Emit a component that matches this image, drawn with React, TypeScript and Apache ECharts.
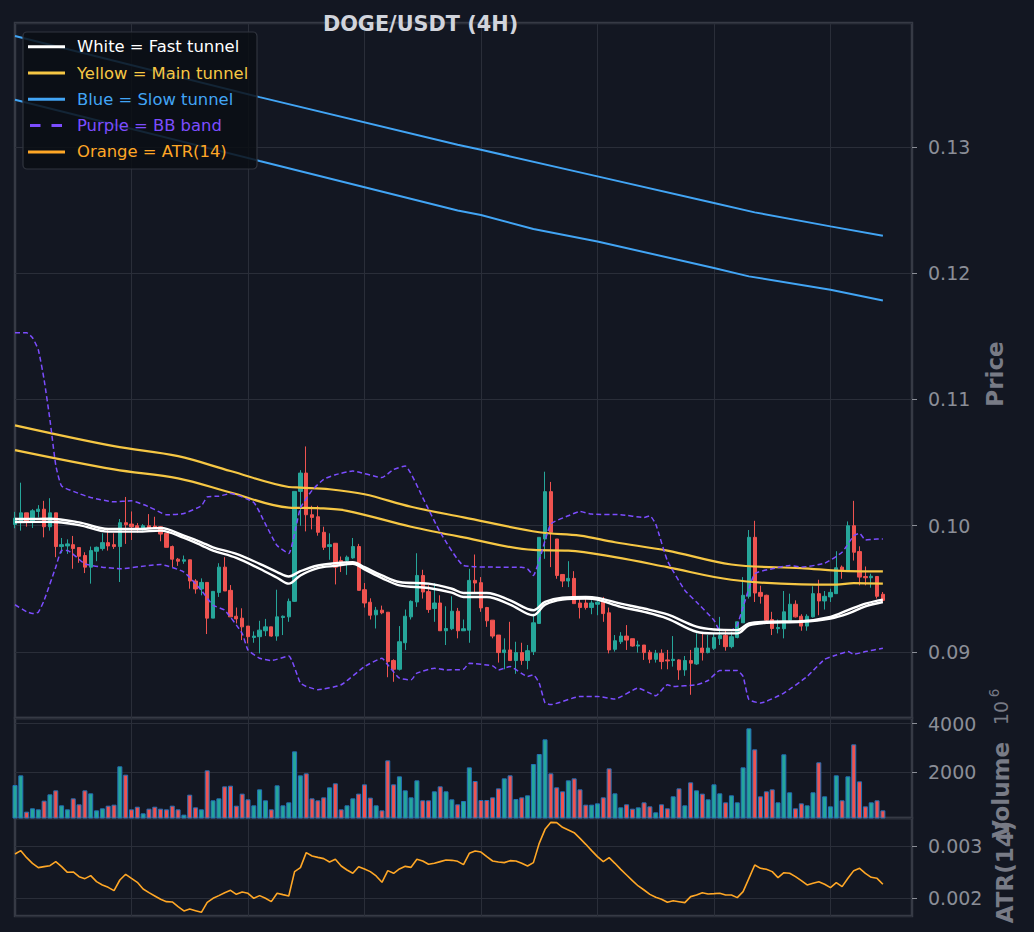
import React, { useEffect, useRef } from "react";
import * as echarts from "echarts";

// ---------- data ----------
const SLOT_COUNT = 155; // x range shown (candles 0..149 + empty room on the right)
const CATEGORIES = Array.from({ length: SLOT_COUNT }, (_, i) => String(i));

const OPEN = [
  0.10010, 0.10039, 0.10102, 0.10039, 0.10113, 0.10131, 0.09992, 0.10102, 0.09835, 0.09840,
  0.09850, 0.09827, 0.09764, 0.09672, 0.09798, 0.09819, 0.09866, 0.09850, 0.09835, 0.10024,
  0.10013, 0.10000, 0.09976, 0.10000, 0.09997, 0.09992, 0.09940, 0.09835, 0.09735, 0.09719,
  0.09730, 0.09562, 0.09499, 0.09551, 0.09268, 0.09472, 0.09672, 0.09488, 0.09283, 0.09268,
  0.09205, 0.09115, 0.09121, 0.09168, 0.09199, 0.09126, 0.09273, 0.09278, 0.09401, 0.10272,
  0.10417, 0.10087, 0.10071, 0.09948, 0.09835, 0.09861, 0.09724, 0.09724, 0.09745, 0.09835,
  0.09493, 0.09394, 0.09294, 0.09331, 0.09315, 0.08932, 0.08863, 0.09073, 0.09278, 0.09396,
  0.09606, 0.09478, 0.09344, 0.09388, 0.09168, 0.09184, 0.09323, 0.09168, 0.09173, 0.09567,
  0.09549, 0.09352, 0.09252, 0.09134, 0.08995, 0.09016, 0.08932, 0.08995, 0.08932, 0.09003,
  0.09226, 0.09895, 0.10270, 0.09895, 0.09614, 0.09562, 0.09583, 0.09388, 0.09388, 0.09352,
  0.09378, 0.09394, 0.09310, 0.09021, 0.09081, 0.09126, 0.09105, 0.09047, 0.09055, 0.08998,
  0.08942, 0.08989, 0.08937, 0.08932, 0.08937, 0.08858, 0.08932, 0.08905, 0.09031, 0.08995,
  0.09029, 0.09105, 0.09131, 0.09042, 0.09115, 0.09231, 0.09441, 0.09908, 0.09472, 0.09449,
  0.09257, 0.09184, 0.09184, 0.09252, 0.09378, 0.09283, 0.09205, 0.09278, 0.09462, 0.09404,
  0.09436, 0.09462, 0.09672, 0.09646, 0.10000, 0.09795, 0.09598, 0.09588, 0.09598, 0.09457,
];
const CLOSE = [
  0.10060, 0.10102, 0.10039, 0.10118, 0.10131, 0.09992, 0.10102, 0.09835, 0.09850, 0.09856,
  0.09819, 0.09758, 0.09672, 0.09803, 0.09829, 0.09866, 0.09840, 0.09835, 0.10024, 0.10008,
  0.09992, 0.09976, 0.10000, 0.09982, 0.09982, 0.09934, 0.09829, 0.09735, 0.09719, 0.09730,
  0.09562, 0.09499, 0.09551, 0.09268, 0.09480, 0.09672, 0.09483, 0.09278, 0.09262, 0.09199,
  0.09121, 0.09126, 0.09173, 0.09199, 0.09126, 0.09278, 0.09283, 0.09401, 0.10272, 0.10417,
  0.10087, 0.10066, 0.09948, 0.09829, 0.09850, 0.09672, 0.09714, 0.09751, 0.09835, 0.09488,
  0.09388, 0.09291, 0.09331, 0.09310, 0.08924, 0.08863, 0.09081, 0.09283, 0.09401, 0.09606,
  0.09475, 0.09336, 0.09388, 0.09168, 0.09186, 0.09323, 0.09168, 0.09184, 0.09567, 0.09546,
  0.09349, 0.09247, 0.09126, 0.08995, 0.09016, 0.08932, 0.08995, 0.08932, 0.09010, 0.09231,
  0.09908, 0.10270, 0.09948, 0.09606, 0.09562, 0.09583, 0.09383, 0.09352, 0.09352, 0.09388,
  0.09394, 0.09304, 0.09016, 0.09089, 0.09126, 0.09094, 0.09047, 0.09055, 0.08995, 0.08942,
  0.08989, 0.08924, 0.08929, 0.08942, 0.08858, 0.08932, 0.08911, 0.09031, 0.08995, 0.09031,
  0.09115, 0.09131, 0.09042, 0.09121, 0.09239, 0.09449, 0.09908, 0.09467, 0.09441, 0.09252,
  0.09186, 0.09194, 0.09318, 0.09378, 0.09278, 0.09205, 0.09283, 0.09462, 0.09404, 0.09441,
  0.09472, 0.09667, 0.09651, 0.10000, 0.09790, 0.09593, 0.09588, 0.09600, 0.09441, 0.09409,
];
const LOW = [
  0.09980, 0.09961, 0.09992, 0.09982, 0.10066, 0.09908, 0.09961, 0.09751, 0.09782, 0.09777,
  0.09659, 0.09706, 0.09625, 0.09541, 0.09719, 0.09803, 0.09803, 0.09816, 0.09554, 0.09856,
  0.09887, 0.09945, 0.09961, 0.09976, 0.09976, 0.09877, 0.09829, 0.09672, 0.09682, 0.09698,
  0.09501, 0.09462, 0.09449, 0.09142, 0.09268, 0.09436, 0.09483, 0.09278, 0.09226, 0.09094,
  0.09068, 0.09073, 0.08989, 0.09126, 0.09120, 0.09089, 0.09134, 0.09239, 0.09396, 0.10000,
  0.09955, 0.09971, 0.09921, 0.09808, 0.09730, 0.09535, 0.09633, 0.09611, 0.09738, 0.09488,
  0.09352, 0.09257, 0.09186, 0.09299, 0.08800, 0.08764, 0.08853, 0.09016, 0.09257, 0.09357,
  0.09423, 0.09310, 0.09239, 0.09168, 0.09055, 0.09173, 0.09108, 0.09168, 0.09073, 0.09462,
  0.09318, 0.09199, 0.09108, 0.08916, 0.08863, 0.08932, 0.08827, 0.08898, 0.08863, 0.08976,
  0.09226, 0.09738, 0.09672, 0.09580, 0.09514, 0.09514, 0.09383, 0.09265, 0.09336, 0.09299,
  0.09291, 0.09239, 0.08989, 0.09003, 0.09063, 0.09016, 0.09042, 0.08995, 0.08937, 0.08911,
  0.08916, 0.08863, 0.08863, 0.08884, 0.08779, 0.08811, 0.08661, 0.08898, 0.08932, 0.08989,
  0.09016, 0.09055, 0.09010, 0.09029, 0.09108, 0.09231, 0.09423, 0.09396, 0.09383, 0.09239,
  0.09134, 0.09147, 0.09108, 0.09239, 0.09273, 0.09168, 0.09168, 0.09273, 0.09291, 0.09336,
  0.09396, 0.09462, 0.09580, 0.09646, 0.09724, 0.09528, 0.09528, 0.09509, 0.09423, 0.09396,
];
const HIGH = [
  0.10110, 0.10341, 0.10102, 0.10131, 0.10163, 0.10197, 0.10218, 0.10102, 0.09903, 0.09892,
  0.09919, 0.09827, 0.09790, 0.09835, 0.09835, 0.09940, 0.09974, 0.09940, 0.10053, 0.10228,
  0.10113, 0.10021, 0.10013, 0.10092, 0.10071, 0.09997, 0.09940, 0.09843, 0.09745, 0.09764,
  0.09730, 0.09577, 0.09583, 0.09551, 0.09480, 0.09703, 0.09751, 0.09530, 0.09352, 0.09346,
  0.09205, 0.09163, 0.09247, 0.09262, 0.09199, 0.09493, 0.09289, 0.09423, 0.10272, 0.10440,
  0.10628, 0.10158, 0.10158, 0.09992, 0.09940, 0.09861, 0.09756, 0.09764, 0.09903, 0.09856,
  0.09546, 0.09425, 0.09357, 0.09367, 0.09315, 0.08942, 0.09205, 0.09336, 0.09409, 0.09782,
  0.09651, 0.09528, 0.09546, 0.09449, 0.09362, 0.09441, 0.09349, 0.09257, 0.09659, 0.09772,
  0.09593, 0.09357, 0.09252, 0.09134, 0.09108, 0.09239, 0.09081, 0.09073, 0.09055, 0.09304,
  0.09908, 0.10428, 0.10347, 0.09895, 0.09614, 0.09719, 0.09640, 0.09428, 0.09420, 0.09409,
  0.09436, 0.09436, 0.09352, 0.09134, 0.09157, 0.09213, 0.09105, 0.09089, 0.09055, 0.09016,
  0.09016, 0.09021, 0.09016, 0.09126, 0.08942, 0.08968, 0.09016, 0.09147, 0.09152, 0.09134,
  0.09147, 0.09278, 0.09173, 0.09160, 0.09239, 0.09593, 0.09966, 0.10039, 0.09525, 0.09454,
  0.09318, 0.09257, 0.09483, 0.09462, 0.09409, 0.09299, 0.09299, 0.09520, 0.09572, 0.09483,
  0.09501, 0.09798, 0.09685, 0.10034, 0.10197, 0.09837, 0.09677, 0.09620, 0.09598, 0.09475,
];
// volume in units of 10^6
const VOLUME = [
  1464, 1862, 364, 502, 460, 818, 1079, 1244, 625, 460,
  914, 667, 1244, 1120, 419, 502, 612, 653, 2234, 1890,
  460, 570, 296, 488, 570, 488, 460, 612, 460, 241,
  1065, 543, 460, 2069, 832, 914, 1409, 1436, 612, 1107,
  873, 625, 1285, 832, 460, 1450, 625, 749, 2852, 1862,
  1945, 914, 832, 955, 1368, 1533, 460, 625, 914, 1107,
  1491, 942, 625, 419, 2481, 1491, 1821, 1244, 955, 1656,
  832, 832, 1203, 1409, 1203, 873, 667, 804, 2192, 1629,
  845, 845, 955, 1326, 1739, 1863, 887, 955, 1038, 2330,
  2742, 3347, 1945, 1368, 1203, 1656, 1739, 1285, 653, 653,
  708, 955, 2151, 1120, 543, 667, 488, 543, 749, 584,
  337, 667, 502, 997, 1326, 625, 1574, 1244, 1107, 873,
  1491, 1120, 749, 1038, 749, 2192, 3801, 2935, 997, 1203,
  1285, 749, 2729, 1162, 502, 708, 625, 1162, 2399, 997,
  584, 1863, 832, 1821, 3141, 1615, 584, 749, 832, 419,
];
const ATR = [
  0.002847, 0.002911, 0.002777, 0.002669, 0.002586, 0.002605, 0.002624, 0.002701, 0.002605, 0.002497,
  0.002503, 0.002414, 0.002376, 0.002433, 0.002318, 0.002255, 0.002210, 0.002146, 0.002350, 0.002459,
  0.002382, 0.002306, 0.002178, 0.002108, 0.002045, 0.001981, 0.001936, 0.001930, 0.001841, 0.001758,
  0.001796, 0.001764, 0.001732, 0.001924, 0.002000, 0.002051, 0.002108, 0.002153, 0.002076, 0.002121,
  0.002096, 0.002000, 0.002051, 0.002000, 0.001936, 0.002096, 0.002070, 0.002045, 0.002510, 0.002586,
  0.002873, 0.002809, 0.002783, 0.002758, 0.002694, 0.002745, 0.002618, 0.002541, 0.002478, 0.002605,
  0.002561, 0.002510, 0.002427, 0.002306, 0.002529, 0.002478, 0.002561, 0.002611, 0.002592, 0.002745,
  0.002713, 0.002650, 0.002669, 0.002701, 0.002732, 0.002726, 0.002707, 0.002643, 0.002860, 0.002904,
  0.002885, 0.002796, 0.002713, 0.002694, 0.002682, 0.002720, 0.002713, 0.002669, 0.002618, 0.002682,
  0.003051, 0.003318, 0.003452, 0.003446, 0.003357, 0.003306, 0.003255, 0.003146, 0.003032, 0.002911,
  0.002796, 0.002701, 0.002777, 0.002669, 0.002554, 0.002446, 0.002338, 0.002236, 0.002159, 0.002076,
  0.002019, 0.001981, 0.001924, 0.001955, 0.001936, 0.001917, 0.002032, 0.002064, 0.002108, 0.002083,
  0.002089, 0.002096, 0.002064, 0.002064, 0.002013, 0.002127, 0.002382, 0.002637, 0.002573, 0.002554,
  0.002510, 0.002395, 0.002490, 0.002478, 0.002414, 0.002338, 0.002255, 0.002287, 0.002318, 0.002268,
  0.002204, 0.002299, 0.002223, 0.002382, 0.002529, 0.002573, 0.002478, 0.002401, 0.002382, 0.002268,
];

// overlay lines read at [candle index, price]
const FAST_UPPER = [
  [0, 0.10053], [6, 0.10055], [11, 0.10026], [16, 0.09974], [21, 0.09974], [25, 0.09982],
  [29, 0.09921], [32, 0.09869], [34, 0.09829], [38, 0.09777], [42, 0.09698], [45, 0.09633],
  [47, 0.09598], [49, 0.0964], [52, 0.09685], [55, 0.09703], [58, 0.09711], [60, 0.09672],
  [63, 0.09606], [66, 0.09554], [71, 0.09541], [75, 0.09501], [77, 0.09467], [81, 0.09467],
  [85, 0.09409], [89, 0.09331], [91, 0.09396], [94, 0.0943], [98, 0.09436], [100, 0.09428],
  [104, 0.09383], [108, 0.09344], [112, 0.09297], [117, 0.092], [120, 0.09178], [124, 0.09173],
  [126, 0.09226], [129, 0.09239], [135, 0.09244], [140, 0.09278], [143, 0.09331], [146, 0.09383],
  [149, 0.09415],
];
const FAST_LOWER = [
  [0, 0.10029], [6, 0.10031], [11, 0.10005], [16, 0.09953], [21, 0.09953], [25, 0.09961],
  [29, 0.09903], [32, 0.09845], [34, 0.09803], [38, 0.09745], [42, 0.09659], [45, 0.09588],
  [47, 0.09541], [49, 0.09606], [52, 0.09664], [55, 0.09682], [58, 0.09698], [60, 0.09654],
  [63, 0.09585], [66, 0.09528], [71, 0.09507], [75, 0.0947], [77, 0.09436], [81, 0.09436],
  [85, 0.09375], [89, 0.09291], [91, 0.09375], [94, 0.09415], [98, 0.09423], [100, 0.09415],
  [104, 0.09357], [108, 0.09318], [112, 0.09265], [117, 0.0916], [120, 0.09147], [124, 0.09147],
  [126, 0.0921], [129, 0.09231], [135, 0.09239], [140, 0.09265], [143, 0.09304], [146, 0.09362],
  [149, 0.09396],
];
const MAIN_UPPER = [
  [0, 0.10795], [17, 0.1063], [28, 0.10551], [37, 0.10433], [47, 0.10307], [49, 0.10302],
  [54, 0.10289], [60, 0.10249], [68, 0.1015], [77, 0.10066], [90, 0.09948], [97, 0.09921],
  [103, 0.09869], [112, 0.09803], [123, 0.09693], [135, 0.09664], [143, 0.0964], [149, 0.09638],
];
const MAIN_LOWER = [
  [0, 0.10599], [17, 0.10446], [28, 0.10375], [37, 0.10263], [47, 0.10144], [52, 0.10139],
  [57, 0.10118], [68, 0.09992], [77, 0.09908], [89, 0.09808], [95, 0.09803], [103, 0.09751],
  [112, 0.09672], [123, 0.09572], [135, 0.09535], [141, 0.09533], [144, 0.09546], [149, 0.09541],
];
const SLOW_UPPER = [
  [0, 0.13879], [42, 0.13395], [76, 0.13018], [80, 0.12978], [100, 0.12767], [120, 0.12556],
  [127, 0.12482], [140, 0.12371], [149, 0.12297],
];
const SLOW_LOWER = [
  [0, 0.13374], [42, 0.12889], [76, 0.12497], [80, 0.12461], [89, 0.1235], [100, 0.12252],
  [120, 0.12041], [126, 0.11975], [140, 0.11869], [149, 0.11784],
];
const BB_UPPER = [
  [0, 0.11528], [2, 0.11528], [3, 0.11489], [4, 0.11394], [5, 0.11156], [6, 0.10839], [7, 0.1048],
  [8, 0.10315], [11, 0.10255], [13, 0.10223], [17, 0.10189], [20, 0.10197], [23, 0.1015],
  [26, 0.10087], [29, 0.10097], [32, 0.10158], [33, 0.10228], [35, 0.10234], [37, 0.10255],
  [41, 0.10184], [43, 0.10013], [45, 0.09843], [47, 0.0978], [49, 0.1014], [51, 0.1028],
  [53, 0.10368], [55, 0.10404], [58, 0.10433], [63, 0.10381], [65, 0.10446], [67, 0.10473],
  [70, 0.10223], [73, 0.09948], [77, 0.09685], [83, 0.09672], [87, 0.09672], [88, 0.09659],
  [89, 0.09606], [90, 0.09724], [92, 0.10013], [95, 0.10079], [97, 0.10113], [99, 0.10092],
  [104, 0.10087], [108, 0.10066], [109, 0.10079], [110, 0.10013], [112, 0.09724], [115, 0.09488],
  [117, 0.09396], [120, 0.09252], [121, 0.09173], [123, 0.09173], [124, 0.09213], [125, 0.09357],
  [127, 0.09619], [130, 0.09659], [133, 0.09685], [135, 0.09672], [139, 0.09703], [142, 0.0979],
  [144, 0.09921], [145, 0.0994], [146, 0.09887], [148, 0.09895], [149, 0.09895],
];
const BB_LOWER = [
  [0, 0.09374], [2, 0.09319], [3, 0.09304], [4, 0.09315], [5, 0.09409], [7, 0.09672],
  [8, 0.09803], [9, 0.09803], [12, 0.09698], [15, 0.09672], [18, 0.09659], [23, 0.09685],
  [25, 0.09693], [29, 0.09633], [32, 0.09488], [34, 0.0937], [36, 0.09331], [39, 0.09147],
  [40, 0.09016], [42, 0.0895], [44, 0.08932], [47, 0.08968], [49, 0.08753], [50, 0.08727],
  [52, 0.08701], [56, 0.0874], [60, 0.08884], [63, 0.0895], [64, 0.08898], [66, 0.08792],
  [68, 0.08779], [69, 0.08832], [72, 0.08871], [74, 0.08858], [77, 0.08863], [78, 0.08911],
  [82, 0.0889], [83, 0.08858], [85, 0.08884], [88, 0.08806], [89, 0.08819], [90, 0.08753],
  [91, 0.08596], [92, 0.08583], [97, 0.08648], [100, 0.08648], [103, 0.08627], [107, 0.08714],
  [109, 0.08674], [110, 0.08653], [112, 0.0874], [113, 0.08727], [117, 0.0874], [119, 0.08774],
  [121, 0.08853], [124, 0.08853], [125, 0.08806], [126, 0.08622], [128, 0.08596], [132, 0.08674],
  [136, 0.08806], [139, 0.08942], [141, 0.08976], [143, 0.09003], [144, 0.08982], [146, 0.09003],
  [149, 0.09029],
];

const LEGEND_ITEMS = [
  { label: "White = Fast tunnel", color: "#ffffff", dashed: false },
  { label: "Yellow = Main tunnel", color: "#f6c744", dashed: false },
  { label: "Blue = Slow tunnel", color: "#42a5f5", dashed: false },
  { label: "Purple = BB band", color: "#7c4dff", dashed: true },
  { label: "Orange = ATR(14)", color: "#ffa726", dashed: false },
];

// ---------- styling ----------
const BG = "#131722";
const GRID_LINE = "#2a2e39";
const SPINE = "#363a45";
const TICK_TEXT = "#8b8e97";
const AXIS_TITLE = "#787b86";
const UP = "#26a69a";
const DOWN = "#ef5350";
const FONT = "DejaVu Sans";

function buildOption() {
  const grids = [
    { left: 15, top: 23, width: 897, height: 695 },
    { left: 15, top: 718, width: 897, height: 100 },
    { left: 15, top: 818, width: 897, height: 98 },
  ].map((g) => ({ ...g, show: true, borderColor: SPINE, borderWidth: 2.5, backgroundColor: "transparent" }));

  const xAxes = [0, 1, 2].map((i) => ({
    type: "category",
    gridIndex: i,
    data: CATEGORIES,
    boundaryGap: false,
    axisLine: { show: false },
    axisTick: { show: false },
    axisLabel: { show: false },
    splitLine: {
      show: true,
      interval: (idx: number) => idx > 0 && idx % 20 === 0,
      lineStyle: { color: GRID_LINE, width: 1 },
    },
  }));

  const yBase = (gridIndex: number, min: number, max: number, step: number, fmt: (v: number) => string) => ({
    type: "value",
    gridIndex,
    position: "right",
    min,
    max,
    minInterval: step,
    maxInterval: step,
    axisLine: { show: false },
    axisTick: { show: true, length: 5, lineStyle: { color: TICK_TEXT, width: 1 } },
    axisLabel: {
      color: TICK_TEXT,
      fontSize: 19,
      fontFamily: FONT,
      margin: 16,
      formatter: fmt,
      showMinLabel: false,
      showMaxLabel: false,
    },
    splitLine: { show: true, lineStyle: { color: GRID_LINE, width: 1 } },
  });

  const yAxes = [
    yBase(0, 0.08477, 0.13982, 0.01, (v) => v.toFixed(2)),
    yBase(1, 103, 4227, 2000, (v) => String(Math.round(v))),
    yBase(2, 0.001662, 0.003535, 0.001, (v) => v.toFixed(3)),
  ];

  const candleData = OPEN.map((o, i) => [o, CLOSE[i], LOW[i], HIGH[i]]);
  const volumeData = VOLUME.map((v, i) => ({
    value: v,
    itemStyle: { color: CLOSE[i] >= OPEN[i] ? UP : DOWN },
  }));

  const lineSeries = (data: number[][], color: string, width: number, dashed = false, smooth: number | boolean = 0.35) => ({
    type: "line",
    xAxisIndex: 0,
    yAxisIndex: 0,
    data,
    symbol: "none",
    smooth,
    silent: true,
    lineStyle: { color, width, type: dashed ? [5, 3] : "solid" },
    z: 3,
  });

  const legendGraphics: any[] = [
    {
      type: "rect",
      shape: { x: 23, y: 32, width: 234, height: 137, r: 4 },
      style: { fill: "rgba(11,14,20,0.85)", stroke: "#30343e", lineWidth: 1.2 },
      z: 100,
    },
  ];
  LEGEND_ITEMS.forEach((it, i) => {
    const y = 46.7 + i * 26.3;
    legendGraphics.push({
      type: "line",
      shape: it.dashed ? { x1: 30, y1: y, x2: 64, y2: y } : { x1: 28, y1: y, x2: 65, y2: y },
      style: { stroke: it.color, lineWidth: 3, lineDash: it.dashed ? [10.5, 11] : null },
      z: 101,
    });
    legendGraphics.push({
      type: "text",
      x: 77,
      y,
      style: {
        text: it.label,
        fill: it.color,
        font: `16.4px "${FONT}"`,
        textAlign: "left",
        textVerticalAlign: "middle",
      },
      z: 101,
    });
  });

  const rotText = (text: string, x: number, y: number, bold: boolean, size: number) => ({
    type: "text",
    x,
    y,
    rotation: Math.PI / 2,
    style: {
      text,
      fill: AXIS_TITLE,
      font: `${bold ? "bold " : ""}${size}px "${FONT}"`,
      textAlign: "center",
      textVerticalAlign: "middle",
    },
    z: 50,
  });

  return {
    animation: false,
    backgroundColor: BG,
    grid: grids,
    xAxis: xAxes,
    yAxis: yAxes,
    series: [
      {
        type: "candlestick",
        xAxisIndex: 0,
        yAxisIndex: 0,
        data: candleData,
        barWidth: 3.8,
        clip: true,
        itemStyle: { color: UP, color0: DOWN, borderColor: UP, borderColor0: DOWN, borderWidth: 1 },
        z: 2,
      },
      lineSeries(SLOW_UPPER, "#42a5f5", 2, false, false),
      lineSeries(SLOW_LOWER, "#42a5f5", 2, false, false),
      lineSeries(MAIN_UPPER, "#f6c744", 2.2),
      lineSeries(MAIN_LOWER, "#f6c744", 2.2),
      lineSeries(BB_UPPER, "#7c4dff", 1.5, true, 0.15),
      lineSeries(BB_LOWER, "#7c4dff", 1.5, true, 0.15),
      lineSeries(FAST_UPPER, "#ffffff", 2.4),
      lineSeries(FAST_LOWER, "#ffffff", 2.4),
      {
        type: "bar",
        xAxisIndex: 1,
        yAxisIndex: 1,
        data: volumeData,
        barWidth: 5,
        clip: true,
        itemStyle: { borderColor: "#2470b8", borderWidth: 1 },
      },
      {
        type: "line",
        xAxisIndex: 2,
        yAxisIndex: 2,
        data: ATR,
        symbol: "none",
        lineStyle: { color: "#ffa726", width: 1.6 },
      },
    ],
    graphic: [
      {
        type: "text",
        x: 420.5,
        y: 24,
        style: {
          text: "DOGE/USDT (4H)",
          fill: "#d1d4dc",
          font: `bold 20.8px "${FONT}"`,
          textAlign: "center",
          textVerticalAlign: "middle",
        },
        z: 100,
      },
      ...legendGraphics,
      rotText("Price", 995, 374, true, 23),
      rotText("10", 1001, 713, false, 19),
      rotText("6", 994, 693, false, 13.5),
      rotText("Volume", 1001, 790, true, 23),
      rotText("ATR(14)", 1005, 872, true, 23),
    ],
  };
}

export default function App() {
  const ref = useRef<HTMLDivElement | null>(null);
  useEffect(() => {
    if (!ref.current) return;
    const chart = echarts.init(ref.current, null, { renderer: "svg" });
    chart.setOption(buildOption() as any);
    return () => chart.dispose();
  }, []);
  return (
    <div
      ref={ref}
      style={{ position: "fixed", left: 0, top: 0, width: 1034, height: 932, background: BG }}
    />
  );
}
